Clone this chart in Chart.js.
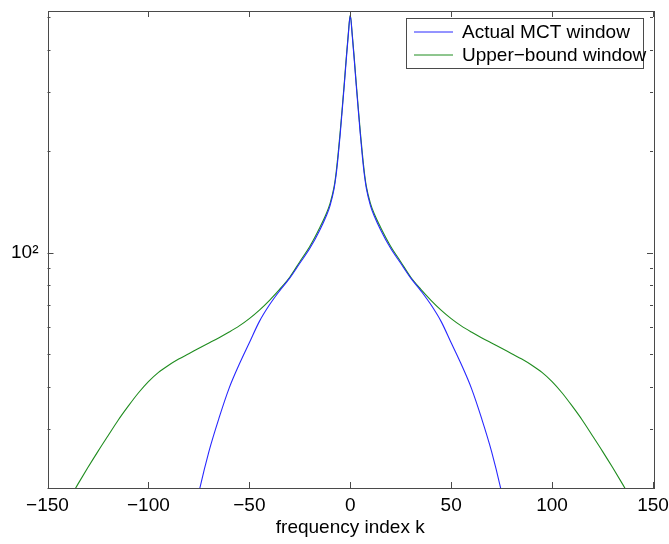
<!DOCTYPE html>
<html>
<head>
<meta charset="utf-8">
<script src="https://cdn.jsdelivr.net/npm/chart.js@4/dist/chart.umd.min.js"></script>
<style>
  body { margin: 0; background: #fff; }
  canvas { display: block; }
</style>
</head>
<body>
<canvas id="windowChart" width="669" height="544"></canvas>
<script>
// frequency index k for each curve
const kActual = [-80, -75, -70, -65, -60, -55, -50, -45, -40, -35, -30, -25, -20, -15, -12, -10, -8, -7, -6, -5, -4, -3, -2, -1,
    0, 1, 2, 3, 4, 5, 6, 7, 8, 10, 12, 15, 20, 25, 30, 35, 40, 45, 50, 55, 60, 65, 70, 75, 80];
const actualValues = [13.9, 19.4, 25.7, 32.3, 39.6, 46.6, 54, 62.5, 70, 77, 84, 93, 103, 117, 128, 138, 155, 170, 193, 224, 264, 312, 372, 440,
    505, 440, 372, 312, 264, 224, 193, 170, 155, 138, 128, 117, 103, 93, 84, 77, 70, 62.5, 54, 46.6, 39.6, 32.3, 25.7, 19.4, 13.9];

const kUpper = [-145, -140, -135, -130, -125, -120, -115, -110, -105, -100, -95, -90, -85, -80, -75, -70, -65, -60, -55, -50, -45, -40,
    -35, -30, -25, -20, -15, -12, -10, -8, -7, -6, -5, -4, -3, -2, -1, 0, 1, 2, 3, 4, 5, 6, 7, 8, 10, 12, 15, 20, 25, 30, 35,
    40, 45, 50, 55, 60, 65, 70, 75, 80, 85, 90, 95, 100, 105, 110, 115, 120, 125, 130, 135, 140, 145];
const upperValues = [16.1, 18.2, 20.5, 23, 25.7, 28.6, 31.8, 35, 38.3, 41.4, 44.1, 46.3, 48.3, 50.1, 52, 53.9, 55.9, 58.1, 60.6, 63.7, 67.5, 72.2,
    77.8, 84.5, 94, 104.5, 119, 130, 140, 157, 173, 197, 228, 268, 317, 378, 445, 508, 445, 378, 317, 268, 228, 197, 173, 157, 140, 130, 119, 104.5, 94, 84.5, 77.8,
    72.2, 67.5, 63.7, 60.6, 58.1, 55.9, 53.9, 52, 50.1, 48.3, 46.3, 44.1, 41.4, 38.3, 35, 31.8, 28.6, 25.7, 23, 20.5, 18.2, 16.1];

const seriesNames = ['Actual MCT window', 'Upper\u2212bound window'];
const xTickValues = [-150, -100, -50, 0, 50, 100, 150];
const yTickValues = [20, 30, 40, 50, 60, 70, 80, 90, 100, 200, 300, 400, 500];

const FONT = 'Helvetica, "Liberation Sans", Arial, sans-serif';
const AXIS_COLOR = '#4a4a4a';

// box around the plot with inward ticks on all four sides
const frameTicks = {
    id: 'frameTicks',
    afterDatasetsDraw(chart) {
        const { ctx, chartArea: a, scales: { x, y } } = chart;
        ctx.save();
        ctx.strokeStyle = AXIS_COLOR;
        ctx.lineWidth = 1;
        ctx.beginPath();
        x.ticks.forEach(t => {
            const px = Math.round(x.getPixelForValue(t.value)) + 0.5;
            ctx.moveTo(px, a.bottom); ctx.lineTo(px, a.bottom - 6);
            ctx.moveTo(px, a.top); ctx.lineTo(px, a.top + 6);
        });
        y.ticks.forEach(t => {
            const py = Math.round(y.getPixelForValue(t.value)) + 0.5;
            const len = t.value === 100 ? 6 : 3;
            ctx.moveTo(a.left, py); ctx.lineTo(a.left + len, py);
            ctx.moveTo(a.right, py); ctx.lineTo(a.right - len, py);
        });
        ctx.stroke();
        ctx.strokeRect(Math.round(a.left) + 0.5, Math.round(a.top) + 0.5,
            Math.round(a.right - a.left), Math.round(a.bottom - a.top));
        ctx.restore();
    }
};

// legend box in the top right corner of the plot
const boxLegend = {
    id: 'boxLegend',
    afterDraw(chart) {
        const { ctx, chartArea: a } = chart;
        const left = a.right - 247, top = a.top + 7, w = 237, h = 50;
        ctx.save();
        ctx.fillStyle = '#fff';
        ctx.fillRect(left, top, w, h);
        ctx.strokeStyle = AXIS_COLOR;
        ctx.lineWidth = 1;
        ctx.strokeRect(Math.round(left) + 0.5, Math.round(top) + 0.5, w, h);
        ctx.font = '19px ' + FONT;
        ctx.textBaseline = 'middle';
        ctx.fillStyle = '#000';
        chart.data.datasets.forEach((ds, i) => {
            const yy = Math.round(top + 14 + i * 23);
            ctx.strokeStyle = ds.borderColor;
            ctx.beginPath();
            ctx.moveTo(left + 8, yy);
            ctx.lineTo(left + 47, yy);
            ctx.stroke();
            ctx.fillText(ds.label, left + 56, yy + 1);
        });
        ctx.restore();
    }
};

const ctx = document.getElementById('windowChart').getContext('2d');
new Chart(ctx, {
    type: 'line',
    data: {
        datasets: [
            {
                label: seriesNames[0],
                data: kActual.map((k, i) => ({ x: k, y: actualValues[i] })),
                borderColor: '#2828ff',
                borderWidth: 1.1,
                cubicInterpolationMode: 'monotone'
            },
            {
                label: seriesNames[1],
                data: kUpper.map((k, i) => ({ x: k, y: upperValues[i] })),
                borderColor: '#1f8c1f',
                borderWidth: 1.1,
                cubicInterpolationMode: 'monotone'
            }
        ]
    },
    options: {
        responsive: false,
        animation: false,
        devicePixelRatio: 1,
        layout: { padding: { top: 11, right: 16, left: 0, bottom: 0 } },
        elements: { point: { radius: 0 } },
        plugins: { legend: { display: false }, tooltip: { enabled: false } },
        scales: {
            x: {
                type: 'linear',
                min: -150,
                max: 150,
                afterBuildTicks: axis => { axis.ticks = xTickValues.map(v => ({ value: v })); },
                afterFit: s => { s.height = 56; s.paddingLeft = 0; s.paddingRight = 0; },
                grid: { display: false, drawTicks: false },
                border: { display: false },
                ticks: {
                    maxRotation: 0,
                    padding: 6,
                    color: '#000',
                    font: { family: FONT, size: 19 },
                    callback: v => (v < 0 ? '\u2212' + Math.abs(v) : String(v))
                },
                title: {
                    display: true,
                    text: 'frequency index k',
                    color: '#000',
                    font: { family: FONT, size: 19 },
                    padding: { top: 0, bottom: 5 }
                }
            },
            y: {
                type: 'logarithmic',
                min: 20,
                max: 522,
                afterBuildTicks: axis => { axis.ticks = yTickValues.map(v => ({ value: v })); },
                afterFit: s => { s.width = 47.5; s.paddingTop = 0; s.paddingBottom = 0; },
                grid: { display: false, drawTicks: false },
                border: { display: false },
                ticks: {
                    padding: 9,
                    color: '#000',
                    font: { family: FONT, size: 19 },
                    autoSkip: false,
                    callback: v => (v === 100 ? '10\u00b2' : '')
                }
            }
        }
    },
    plugins: [frameTicks, boxLegend]
});
</script>
</body>
</html>
